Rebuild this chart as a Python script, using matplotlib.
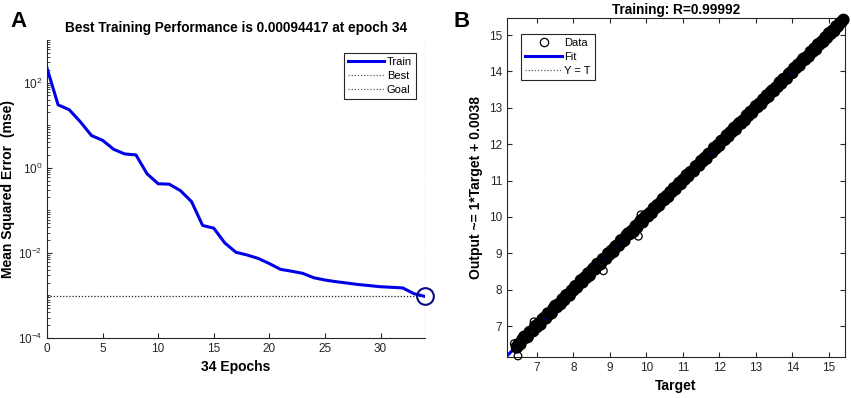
import matplotlib
matplotlib.use("Agg")
import matplotlib.pyplot as plt
import numpy as np
from matplotlib.lines import Line2D
from matplotlib.ticker import LogLocator, NullFormatter, FixedLocator

plt.rcParams['font.family'] = ['Liberation Sans', 'DejaVu Sans']

# ---------------- Panel A data ----------------
epochs = list(range(0, 35))
train_mse = [220, 30, 23, 12, 5.7, 4.4, 2.7, 2.1, 2.0, 0.72, 0.42, 0.41, 0.29, 0.16,
             0.044, 0.038, 0.017, 0.0103, 0.0089, 0.0074, 0.0056, 0.0041, 0.0037,
             0.0033, 0.0026, 0.0023, 0.0021, 0.00195, 0.0018, 0.0017, 0.0016,
             0.00155, 0.0015, 0.0011, 0.00094417]
best_epoch = 34
best_perf = 0.00094417
xticks_a = [0, 5, 10, 15, 20, 25, 30]
yticks_a = [1e-4, 1e-2, 1e0, 1e2]

# ---------------- Panel B data ----------------
targets = [
    6.45, 6.50, 6.55, 6.60, 6.65, 6.70, 6.75,
    6.80, 6.85, 6.90, 6.95, 7.00, 7.05, 7.10, 7.15, 7.20, 7.25,
    7.30, 7.35, 7.40, 7.45, 7.50, 7.55, 7.60, 7.65, 7.70, 7.75,
    7.80, 7.85, 7.90, 7.95, 8.00, 8.05, 8.10, 8.15, 8.20, 8.25,
    8.30, 8.35, 8.40, 8.45, 8.50, 8.55, 8.60, 8.65, 8.70, 8.75,
    8.80, 8.85, 8.90, 8.95, 9.00, 9.05, 9.10, 9.15, 9.20, 9.25,
    9.30, 9.35, 9.40, 9.45, 9.50, 9.55, 9.60, 9.65, 9.70, 9.75,
    9.80, 9.85, 9.90, 9.95,
    10.00, 10.05, 10.10, 10.15, 10.20, 10.25, 10.30, 10.35, 10.40, 10.45,
    10.50, 10.55, 10.60, 10.65, 10.70, 10.75, 10.80, 10.85, 10.90, 10.95,
    11.00, 11.05, 11.10, 11.15, 11.20, 11.25, 11.30, 11.35, 11.40, 11.45,
    11.50, 11.55, 11.60, 11.65, 11.70, 11.75, 11.80, 11.85, 11.90, 11.95,
    12.00, 12.05, 12.10, 12.15, 12.20, 12.25, 12.30, 12.35, 12.40, 12.45,
    12.50, 12.55, 12.60, 12.65, 12.70, 12.75, 12.80, 12.85, 12.90, 12.95,
    13.00, 13.05, 13.10, 13.15, 13.20, 13.25, 13.30, 13.35, 13.40, 13.45,
    13.50, 13.55, 13.60, 13.65, 13.70, 13.75, 13.80, 13.85, 13.90, 13.95,
    14.00, 14.05, 14.10, 14.15, 14.20, 14.25, 14.30, 14.35, 14.40, 14.45,
    14.50, 14.55, 14.60, 14.65, 14.70, 14.75, 14.80, 14.85, 14.90, 14.95,
    15.00, 15.05, 15.10, 15.15, 15.20, 15.25, 15.30, 15.35, 15.40]
# output minus target
residuals = [
    -0.04, 0.01, -0.05, 0.03, 0.06, -0.02, -0.05,
    0.04, 0.00, -0.04, 0.05, -0.03, 0.02, -0.06, 0.04, 0.03, -0.04,
    0.05, -0.02, -0.05, 0.03, 0.06, -0.03, 0.01, -0.05, 0.04, -0.04,
    0.05, 0.02, -0.06, 0.03, -0.02, 0.05, -0.04, 0.00, 0.06, -0.05,
    0.03, -0.03, 0.05, -0.06, 0.02, 0.04, -0.04, 0.06, -0.02, -0.05,
    0.04, 0.01, -0.05, 0.05, -0.03, 0.03, -0.06, 0.04, 0.02, -0.04,
    0.06, -0.03, -0.05, 0.04, 0.05, -0.02, 0.02, -0.06, 0.05, -0.04,
    0.03, 0.06, -0.05, 0.04,
    0.04, -0.035, 0.015, -0.045, 0.045, -0.01, 0.03, -0.04, 0.005, 0.05,
    -0.03, 0.025, -0.05, 0.035, -0.015, 0.045, -0.04, 0.01, 0.04, -0.045,
    0.02, -0.025, 0.05, -0.035, 0.03, -0.005, -0.045, 0.04, 0.015, -0.04,
    0.045, -0.02, 0.025, -0.05, 0.035, 0.00, -0.035, 0.05, -0.025, 0.02,
    -0.045, 0.04, 0.01, -0.03, 0.045, -0.04, 0.03, -0.015, 0.05, -0.05,
    0.025, 0.035, -0.035, 0.005, -0.045, 0.045, -0.02, 0.04, -0.04, 0.015,
    0.05, -0.03, 0.02, -0.05, 0.035, -0.01, 0.045, -0.045, 0.025, 0.03,
    -0.04, 0.01, -0.025, 0.05, -0.035, 0.04, -0.005, -0.05, 0.03, 0.02,
    -0.045, 0.045, -0.015, 0.035, -0.04, 0.025, 0.05, -0.03, 0.005, -0.045,
    0.04, -0.02, 0.03, -0.05, 0.045, -0.01, 0.015, -0.04, 0.035, -0.03,
    0.05, -0.025, 0.02, -0.045, 0.04, -0.015, 0.025, 0.01, 0.02]
outlier_targets = [6.48, 9.78, 6.38, 9.85, 7.45, 8.82, 6.92, 6.40]
outlier_outputs = [6.18, 9.47, 6.52, 10.06, 7.35, 8.52, 7.12, 6.45]
fit_slope = 1.0
fit_intercept = 0.0038
r_value = 0.99992
ticks_b = [7, 8, 9, 10, 11, 12, 13, 14, 15]

outputs = [t + r for t, r in zip(targets, residuals)]

tick_color = '#262626'
fig = plt.figure(figsize=(8.51, 3.98), dpi=100)

# ---------------- Panel A ----------------
axA = fig.add_axes([0.0552, 0.1508, 0.4442, 0.7487])
axA.semilogy(epochs, train_mse, color='#0000e6', lw=2.2, label='Train', zorder=3)
axA.plot([0, best_epoch], [best_perf, best_perf], ls=(0, (1, 1.5)), color='#202020', lw=0.9)
axA.axvline(best_epoch, ls=(0, (1, 1.5)), color='#909090', lw=0.9)
axA.plot([best_epoch], [best_perf], 'o', ms=12, mfc='none', mec='#0a0a80', mew=1.5,
         clip_on=False, zorder=4)
axA.set_xlim(0, 34)
axA.set_ylim(1e-4, 1e3)
axA.set_xticks(xticks_a)
axA.yaxis.set_major_locator(FixedLocator(yticks_a))
axA.yaxis.set_minor_locator(LogLocator(base=10, subs=np.arange(1, 10), numticks=30))
axA.yaxis.set_minor_formatter(NullFormatter())
axA.spines['top'].set_visible(False)
axA.spines['right'].set_visible(False)
for s in ['left', 'bottom']:
    axA.spines[s].set_color(tick_color)
axA.tick_params(direction='in', length=3.5, width=0.8, colors=tick_color, labelsize=8.5)
axA.tick_params(which='minor', direction='in', length=2, width=0.6, colors=tick_color)
axA.set_xlabel('34 Epochs', fontsize=10, fontweight='bold', labelpad=4)
axA.set_ylabel('Mean Squared Error  (mse)', fontsize=10, fontweight='bold', labelpad=2)
axA.set_title('Best Training Performance is 0.00094417 at epoch 34', fontsize=9.8,
              fontweight='bold', pad=6)
handlesA = [Line2D([], [], color='#0000e6', lw=2.2),
            Line2D([], [], color='#606060', lw=0.9, ls=(0, (1, 1.5))),
            Line2D([], [], color='#606060', lw=0.9, ls=(0, (1, 1.5)))]
legA = axA.legend(handlesA, ['Train', 'Best', 'Goal'], loc='upper right',
                  bbox_to_anchor=(0.99, 0.975), fontsize=8, fancybox=False,
                  edgecolor=tick_color, framealpha=1, handlelength=3.3,
                  handletextpad=0.2, borderpad=0.35, labelspacing=0.35)
legA.get_frame().set_linewidth(0.8)

# ---------------- Panel B ----------------
axB = fig.add_axes([0.5958, 0.1038, 0.3971, 0.8502])
xlo, xhi = 6.18, 15.44
ylo, yhi = 6.16, 15.46
fx = np.array([xlo, xhi])
axB.plot(fx, fx, ls=(0, (1, 1.5)), color='#404040', lw=0.9, zorder=1)
axB.plot(fx, fit_slope * fx + fit_intercept, color='#0000e6', lw=2.2, zorder=2)
axB.scatter(targets, outputs, s=40, facecolors='none', edgecolors='black',
            linewidths=2.5, zorder=3, clip_on=False)
axB.scatter(outlier_targets, outlier_outputs, s=30, facecolors='none', edgecolors='black',
            linewidths=0.9, zorder=3, clip_on=False)
axB.set_xlim(xlo, xhi)
axB.set_ylim(ylo, yhi)
axB.set_xticks(ticks_b)
axB.set_yticks(ticks_b)
for s in axB.spines.values():
    s.set_color(tick_color)
axB.tick_params(direction='in', length=3.5, width=0.8, colors=tick_color, labelsize=8.5,
                top=True, right=True)
axB.set_xlabel('Target', fontsize=10, fontweight='bold', labelpad=4)
axB.set_ylabel('Output ~= 1*Target + 0.0038', fontsize=10, fontweight='bold', labelpad=4)
axB.set_title('Training: R=%.5f' % r_value, fontsize=9.8, fontweight='bold', pad=3)
handlesB = [Line2D([], [], color='black', marker='o', ls='none', ms=6, mfc='none', mew=0.9),
            Line2D([], [], color='#0000e6', lw=2.2),
            Line2D([], [], color='#606060', lw=0.9, ls=(0, (1, 1.5)))]
legB = axB.legend(handlesB, ['Data', 'Fit', 'Y = T'], loc='upper left',
                  bbox_to_anchor=(0.026, 0.97), fontsize=8, fancybox=False,
                  edgecolor=tick_color, framealpha=1, handlelength=3.3,
                  handletextpad=0.2, borderpad=0.35, labelspacing=0.35)
legB.get_frame().set_linewidth(0.8)

fig.text(0.012, 0.945, 'A', fontsize=16, fontweight='bold', ha='left', va='center')
fig.text(0.533, 0.945, 'B', fontsize=16, fontweight='bold', ha='left', va='center')

fig.savefig('out.png', dpi=100)
